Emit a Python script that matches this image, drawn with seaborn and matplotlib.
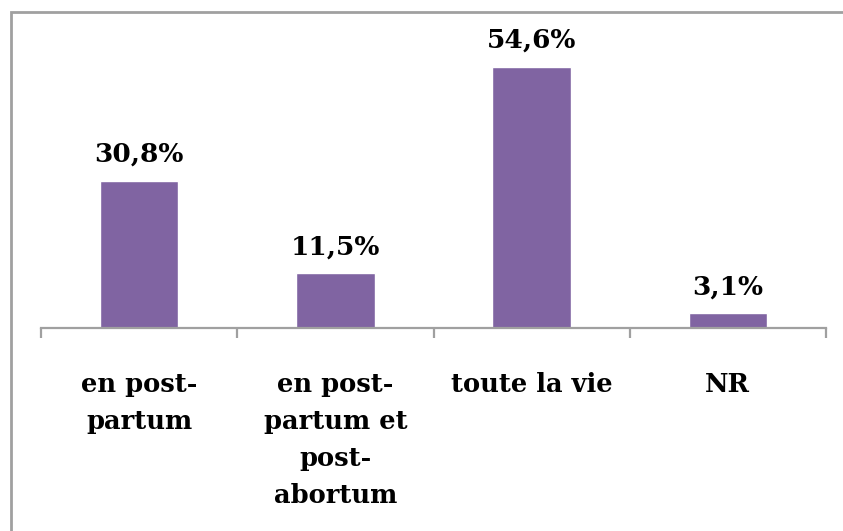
import matplotlib
matplotlib.use("Agg")
import matplotlib.pyplot as plt
import seaborn as sns
import pandas as pd
from matplotlib.patches import Rectangle

categories = ["en post-\npartum", "en post-\npartum et\npost-\nabortum", "toute la vie", "NR"]
values = [30.8, 11.5, 54.6, 3.1]
value_labels = ["30,8%", "11,5%", "54,6%", "3,1%"]

sns.set_theme(style="white")
plt.rcParams["font.family"] = ["DejaVu Serif"]

df = pd.DataFrame({"cat": categories, "val": values})

fig = plt.figure(figsize=(8.43, 5.31), dpi=100)
ax = fig.add_axes([41 / 843, 1 - 328 / 531, 785 / 843, 287 / 531])

sns.barplot(data=df, x="cat", y="val", color="#8064A2", saturation=1,
            width=0.4, ax=ax, zorder=2)

ax.set_xlim(-0.5, 3.5)
ax.set_ylim(0, 60)
for s in ["top", "right", "left"]:
    ax.spines[s].set_visible(False)
ax.spines["bottom"].set_color("#A0A0A0")
ax.spines["bottom"].set_linewidth(1.6)
ax.set_yticks([])
ax.set_xlabel("")
ax.set_ylabel("")

ax.set_xticks(range(len(categories)))
ax.set_xticklabels(categories, fontsize=18.5, fontweight="bold", linespacing=1.6)
ax.tick_params(axis="x", which="major", length=0, pad=32, colors="black")
ax.set_xticks([i - 0.5 for i in range(len(categories) + 1)], minor=True)
ax.tick_params(axis="x", which="minor", bottom=True, length=7.5, width=1.6,
               color="#A0A0A0", direction="out")

for i, (v, lab) in enumerate(zip(values, value_labels)):
    ax.annotate(lab, (i, v), xytext=(0, 10), textcoords="offset points",
                ha="center", va="bottom", fontsize=19, fontweight="bold",
                color="black")

fig.patches.append(Rectangle((11 / 843, -0.1), 1.2, 1 - 12 / 531 + 0.1,
                             transform=fig.transFigure, fill=False,
                             edgecolor="#A0A0A0", linewidth=2))

fig.savefig("out.png", dpi=100)
